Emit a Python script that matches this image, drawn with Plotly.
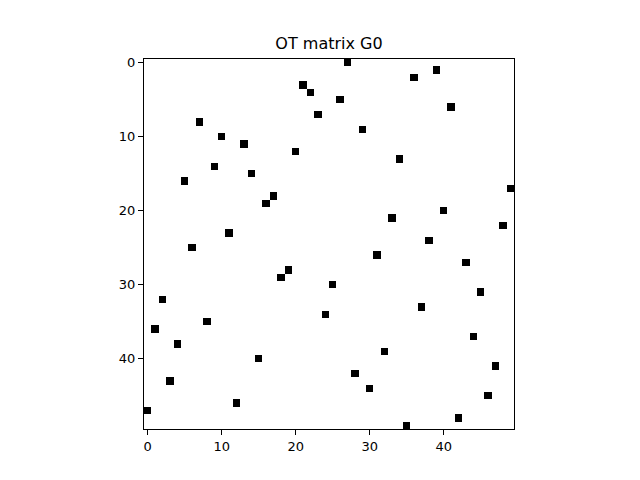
import plotly.graph_objects as go
import numpy as np

# column index of the nonzero entry in each row (permutation-like OT plan)
rows = list(range(50))
cols = [27, 39, 36, 21, 22, 26, 41, 23, 7, 29,
        10, 13, 20, 34, 9, 14, 5, 49, 17, 16,
        40, 33, 48, 11, 38, 6, 31, 43, 19, 18,
        25, 45, 2, 37, 24, 8, 1, 44, 4, 32,
        15, 47, 28, 3, 30, 46, 12, 0, 42, 35]
mass = 1.0 / 50
tick_vals = [0, 10, 20, 30, 40]

G0 = np.zeros((50, 50))
for r, c in zip(rows, cols):
    G0[r, c] = mass

fig = go.Figure(go.Heatmap(
    z=G0, x=list(range(50)), y=list(range(50)),
    colorscale=[[0, "white"], [1, "black"]],
    showscale=False, hoverinfo="skip",
))

axis_common = dict(
    showline=True, mirror=True, linecolor="black", linewidth=1,
    ticks="outside", ticklen=5, tickwidth=1, tickcolor="black",
    showgrid=False, zeroline=False,
    tickfont=dict(family="DejaVu Sans", size=13, color="black"),
    tickvals=tick_vals, ticktext=[str(v) for v in tick_vals],
)
fig.update_xaxes(range=[-0.5, 49.5], **axis_common)
fig.update_yaxes(range=[49.5, -0.5], **axis_common)

fig.update_layout(
    width=640, height=480,
    margin=dict(l=136, r=134, t=51, b=59),
    paper_bgcolor="white", plot_bgcolor="white",
    title=dict(text="OT matrix G0", x=321 / 640, xanchor="center",
               y=1 - 35 / 480, yref="container", yanchor="middle",
               font=dict(family="DejaVu Sans", size=16, color="black")),
)
fig.write_html("out.html")
